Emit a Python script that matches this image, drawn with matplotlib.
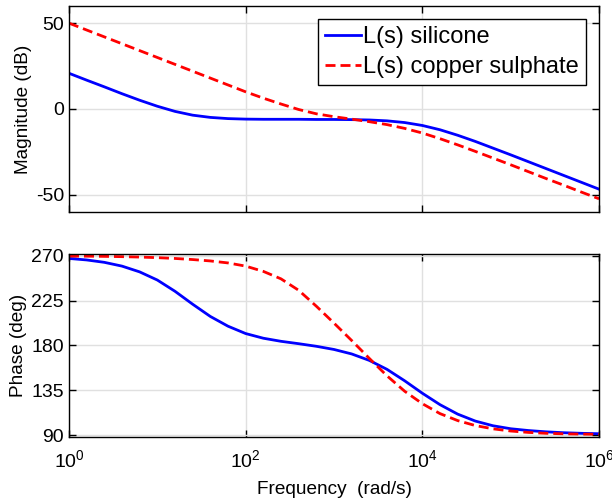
import matplotlib
matplotlib.use("Agg")
import matplotlib.pyplot as plt
import numpy as np

plt.rcParams['font.family'] = ['Liberation Sans', 'DejaVu Sans']
plt.rcParams['mathtext.fontset'] = 'custom'
plt.rcParams['mathtext.rm'] = 'Liberation Sans'
plt.rcParams['axes.unicode_minus'] = False

log_w = [0.0, 0.2, 0.4, 0.6, 0.8, 1.0, 1.2, 1.4, 1.6, 1.8, 2.0,
         2.2, 2.4, 2.6, 2.8, 3.0, 3.2, 3.4, 3.6, 3.8, 4.0,
         4.2, 4.4, 4.6, 4.8, 5.0, 5.2, 5.4, 5.6, 5.8, 6.0]

mag_silicone = [20.8, 16.8, 12.9, 8.9, 5.1, 1.6, -1.4, -3.6, -4.9, -5.6, -5.9,
                -6.0, -6.0, -6.0, -6.1, -6.1, -6.2, -6.4, -6.9, -7.9, -9.6,
                -12.1, -15.3, -18.9, -22.8, -26.7, -30.7, -34.7, -38.7, -42.7, -46.7]
mag_copper = [50.0, 46.0, 42.0, 38.0, 34.0, 30.0, 26.0, 22.0, 18.0, 14.0, 10.0,
              6.3, 2.9, -0.3, -2.8, -4.5, -5.9, -7.4, -9.1, -11.3, -14.0,
              -17.3, -20.9, -24.7, -28.6, -32.5, -36.5, -40.5, -44.4, -48.4, -52.3]

ph_silicone = [267.5, 266.0, 263.6, 259.8, 254.0, 245.8, 234.5, 221.5, 209.2, 199.4, 192.0,
               187.3, 184.2, 181.8, 179.2, 176.0, 171.5, 165.0, 156.0, 144.5, 132.0,
               120.5, 111.0, 104.0, 99.3, 96.3, 94.5, 93.2, 92.3, 91.7, 91.3]
ph_copper = [269.9, 269.8, 269.6, 269.3, 268.9, 268.3, 267.5, 266.4, 265.0, 263.0, 259.8,
             254.5, 247.0, 235.5, 219.5, 202.5, 185.0, 167.0, 149.5, 134.0, 121.5,
             111.5, 104.5, 99.5, 96.2, 94.0, 92.6, 91.7, 91.2, 90.9, 90.7]

labels = ["L(s) silicone", "L(s) copper sulphate"]

w = 10.0 ** np.array(log_w)

fig = plt.figure(figsize=(6.12, 4.98), dpi=100)
ax1 = fig.add_axes([0.1127, 0.5743, 0.8661, 0.4137])
ax2 = fig.add_axes([0.1127, 0.1225, 0.8661, 0.3675])

for ax in (ax1, ax2):
    ax.set_xscale('log')
    ax.set_xlim(1, 1e6)
    ax.set_xticks([1, 1e2, 1e4, 1e6])
    ax.xaxis.set_minor_locator(matplotlib.ticker.NullLocator())
    ax.grid(True, color='#e0e0e0', linewidth=1)
    ax.set_axisbelow(True)
    ax.tick_params(direction='in', top=True, right=True, length=5,
                   width=1, labelsize=14, color='black')
    for sp in ax.spines.values():
        sp.set_color('black')
        sp.set_linewidth(1)

ax1.plot(w, mag_silicone, color='#0000ff', lw=2, label=labels[0])
ax1.plot(w, mag_copper, color='#ff0000', lw=2, dashes=(3.6, 1.8), label=labels[1])
ax1.set_ylim(-60, 60)
ax1.set_yticks([-50, 0, 50])
ax1.set_xticklabels([])
ax1.set_ylabel('Magnitude (dB)', fontsize=13.7, labelpad=3)
leg = ax1.legend(loc='upper right', fontsize=17, fancybox=False, framealpha=1,
                 edgecolor='black', handlelength=1.5, handletextpad=0.1,
                 borderpad=0.3, labelspacing=0.35, borderaxespad=0.55)
leg.get_frame().set_linewidth(1)

ax2.plot(w, ph_silicone, color='#0000ff', lw=2)
ax2.plot(w, ph_copper, color='#ff0000', lw=2, dashes=(3.6, 1.8))
ax2.set_ylim(88, 272)
ax2.set_yticks([90, 135, 180, 225, 270])
ax2.tick_params(axis='x', pad=9)
ax2.set_ylabel('Phase (deg)', fontsize=13.7, labelpad=3)
ax2.set_xlabel('Frequency  (rad/s)', fontsize=13.7, labelpad=7)

fig.savefig('out.png', dpi=100)
